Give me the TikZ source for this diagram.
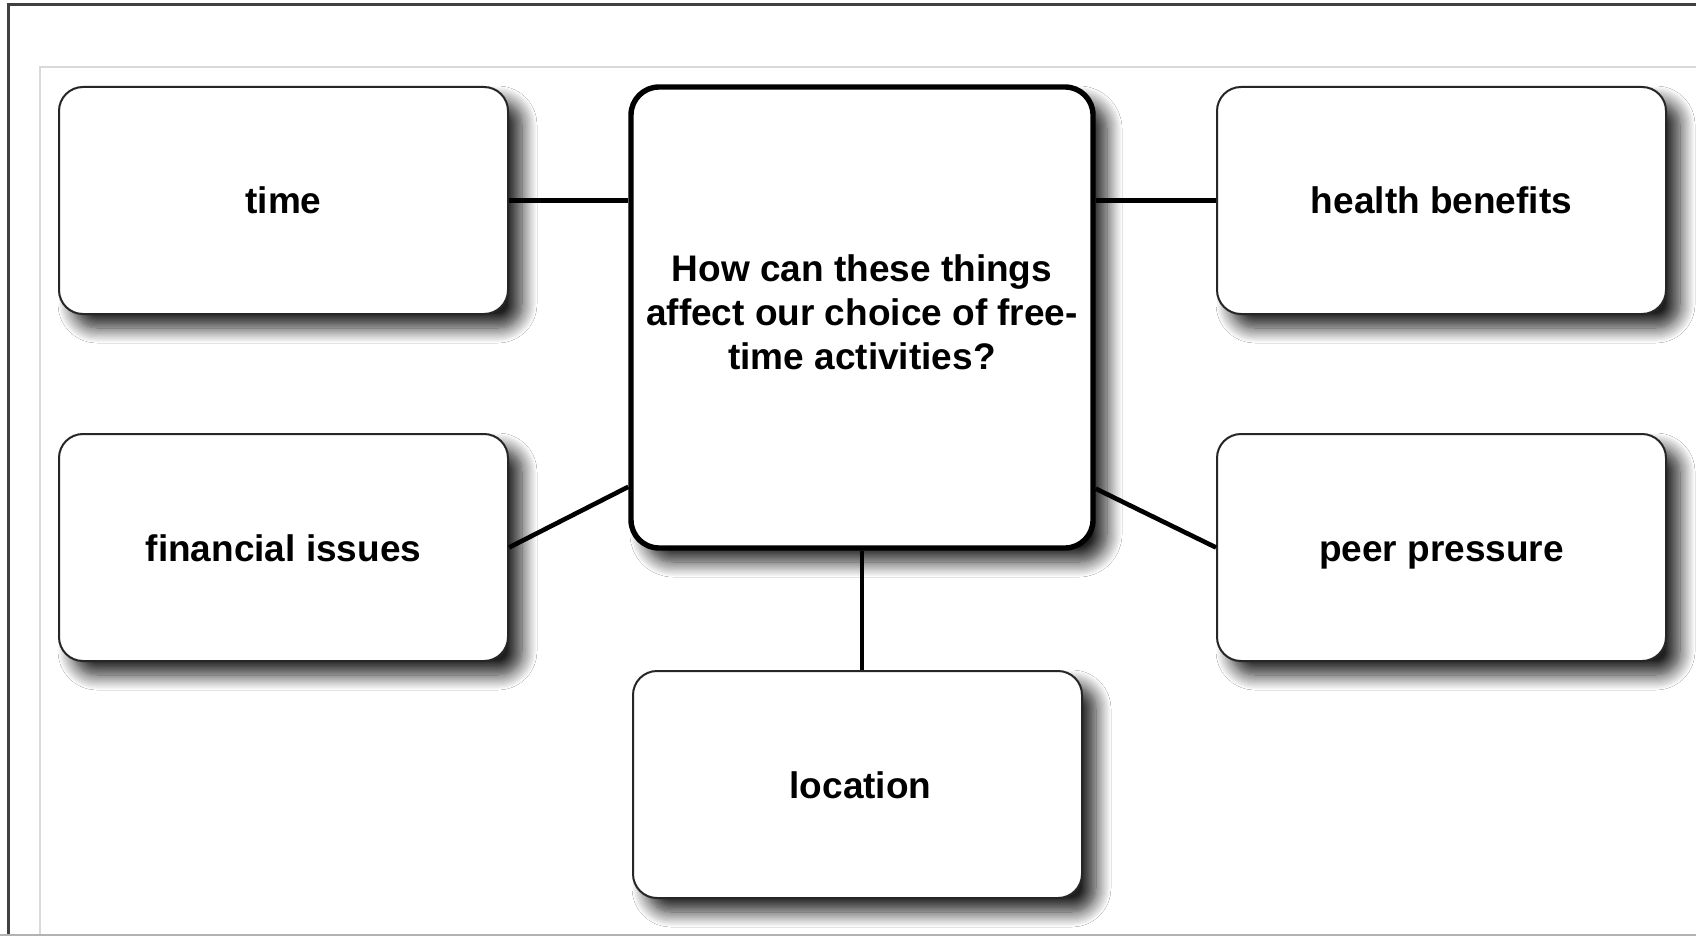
\documentclass[tikz,border=0pt]{standalone}
\usepackage{fontspec}
\setmainfont{Liberation Sans}
\usetikzlibrary{shadows.blur,calc}
\begin{document}
\begin{tikzpicture}[x=0.5pt,y=-0.5pt,
  shad/.style={blur shadow={shadow xshift=7pt,shadow yshift=-7pt,shadow blur radius=7.5pt,shadow blur steps=14,shadow opacity=88}},
  lbl/.style={font=\bfseries\fontsize{18.5}{22}\selectfont},
  topic/.style={draw=black!85,line width=1pt,rounded corners=12pt,fill=white,shad,
    minimum width=224.5pt,minimum height=113.5pt,inner sep=0pt,
    text height=15.5pt,text depth=2pt,lbl},
  central/.style={draw=black,line width=2.7pt,rounded corners=14pt,fill=white,shad,
    minimum width=231pt,minimum height=230.5pt,inner sep=0pt},
  link/.style={line width=2.3pt,black}]
\useasboundingbox (0,0) rectangle (1696,936);
\fill[white] (0,0) rectangle (1696,936);
% frames
\draw[black!75,line width=1.5pt] (8,936) -- (8,5) -- (1696,5);
\draw[black!15,line width=0.6pt] (40,936) -- (40,67) -- (1696,67);
\draw[black!30,line width=1pt] (0,934.5) -- (1696,934.5);
% nodes
\node[central,label={[lbl,align=center,yshift=2.5pt]center:How can these things\\affect our choice of free-\\time activities?}] (cen) at (862,317.5) {};
\node[topic] (time) at (283.5,200.5) {time};
\node[topic] (health) at (1441.5,200.5) {health benefits};
\node[topic] (fin) at (283.5,547.5) {financial issues};
\node[topic] (peer) at (1441.5,547.5) {peer pressure};
\node[topic] (loc) at (857.5,784.5) {\hspace{3pt}location};
% connectors
\coordinate (cw) at ($(cen.south west)!0.137!(cen.north west)$);
\coordinate (ce) at ($(cen.south east)!0.133!(cen.north east)$);
\draw[link] (time.east) -- (time.east -| cen.west);
\draw[link] (health.west) -- (health.west -| cen.east);
\draw[link] (fin.east) -- (cw);
\draw[link] (peer.west) -- (ce);
\draw[link] (cen.south) -- (cen.south |- loc.north);
\end{tikzpicture}
\end{document}
